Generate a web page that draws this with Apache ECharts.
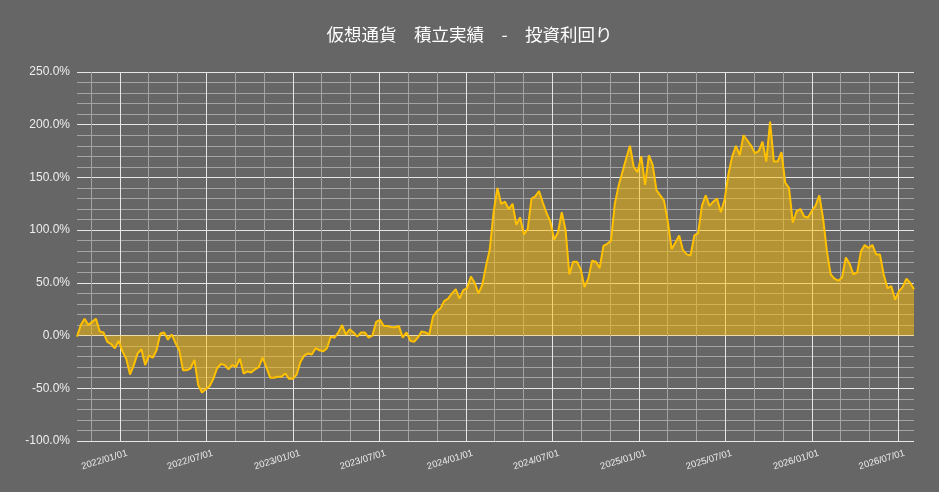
<!DOCTYPE html>
<html>
<head>
<meta charset="utf-8">
<script src="https://cdn.jsdelivr.net/npm/echarts@6/dist/echarts.min.js"></script>
<style>
html,body{margin:0;padding:0;background:#666666;}
#c{width:939px;height:492px;}
</style>
</head>
<body>
<div id="c"></div>
<script>
// ---- data ----
const titleText = '仮想通貨　積立実績　-　投資利回り';
const startDate = '2021-10-01';
const endDate = '2026-08-04';
const stepDays = 8; // one reading every 8 days, starting at startDate
const returnPct = [
  -1, 10, 16, 10, 13, 16, 4, 3, -6, -8,
  -12, -5, -15, -22, -37, -28, -17, -13, -28, -19,
  -21, -14, 2, 3, -4, 1, -7, -14, -33, -33,
  -31, -23, -47, -54, -51, -48, -41, -31, -27, -28,
  -32, -28, -30, -22, -36, -34, -35, -32, -30, -21,
  -30, -40, -40, -39, -39, -36, -41, -41, -37, -25,
  -19, -17, -18, -12, -14, -15, -12, -1, -2, 3,
  10, 1, 6, 3, -1, 3, 3, -2, 0, 13,
  15, 9, 9, 8, 8, 9, -2, 3, -5, -6,
  -2, 4, 3, 1, 18, 23, 26, 33, 35, 40,
  44, 35, 43, 45, 56, 50, 40, 48, 66, 82,
  117, 140, 125, 127, 120, 125, 105, 112, 96, 101,
  130, 132, 137, 126, 116, 108, 91, 98, 117, 100,
  58, 70, 70, 63, 46, 54, 71, 70, 64, 85,
  87, 90, 125, 142, 155, 168, 180, 160, 155, 170,
  143, 171, 162, 138, 133, 128, 108, 82, 88, 95,
  81, 77, 76, 95, 97, 123, 133, 123, 127, 130,
  117, 129, 153, 170, 180, 171, 190, 185, 180, 173,
  175, 184, 165, 203, 165, 165, 174, 145, 140, 107,
  118, 120, 113, 112, 118, 123, 133, 111, 80, 58,
  54, 52, 55, 74, 68, 58, 60, 80, 86, 83,
  86, 77, 77, 58, 45, 47, 34, 42, 46, 54,
  50, 44
];
const yMin = -100, yMax = 250, yStep = 50;
const majorMonths = ['01', '07'];          // labelled half-year lines
const minorMonths = ['03', '05', '09', '11']; // other grid lines every 2 months

// ---- daily categories ----
function pad(n){return (n<10?'0':'')+n;}
const days = [];
{
  let d = new Date(startDate + 'T00:00:00Z');
  const end = new Date(endDate + 'T00:00:00Z');
  while (d <= end) {
    days.push(d.getUTCFullYear() + '-' + pad(d.getUTCMonth()+1) + '-' + pad(d.getUTCDate()));
    d = new Date(d.getTime() + 86400000);
  }
}
const seriesData = returnPct.map((v, i) => [i * stepDays, v]);

const isMajor = (idx, v) => v.slice(8) === '01' && majorMonths.includes(v.slice(5,7));
const isMinor = (idx, v) => v.slice(8) === '01' && minorMonths.includes(v.slice(5,7));
const isLabel = (idx, v) => v.slice(8) === '15' && majorMonths.includes(v.slice(5,7));

const chart = echarts.init(document.getElementById('c'), null, {renderer: 'canvas'});
chart.setOption({
  backgroundColor: '#666666',
  animation: false,
  title: {
    text: titleText,
    left: 'center',
    top: 21,
    textStyle: {color: '#ffffff', fontSize: 17.5, fontWeight: 'normal', fontFamily: 'Noto Sans CJK JP'}
  },
  grid: {left: 77, right: 25, top: 72, bottom: 51, containLabel: false},
  xAxis: [
    {
      type: 'category',
      data: days,
      boundaryGap: false,
      axisLine: {show: false},
      axisTick: {show: false},
      axisLabel: {
        interval: isLabel,
        rotate: 17,
        margin: 12,
        color: '#eeeeee',
        fontSize: 9.5,
        fontFamily: 'Liberation Sans',
        formatter: v => v.slice(0,4) + '/' + v.slice(5,7) + '/01'
      },
      splitLine: {show: true, interval: isMajor, lineStyle: {color: '#e6e6e6', width: 1}},
      z: 3
    },
    {
      type: 'category',
      data: days,
      boundaryGap: false,
      position: 'bottom',
      axisLine: {show: false},
      axisTick: {show: false},
      axisLabel: {show: false},
      splitLine: {show: true, interval: isMinor, lineStyle: {color: '#a3a3a3', width: 1}},
      z: 1
    }
  ],
  yAxis: {
    type: 'value',
    min: yMin,
    max: yMax,
    interval: yStep,
    axisLine: {show: false},
    axisTick: {show: false},
    axisLabel: {
      color: '#eeeeee',
      fontSize: 12,
      fontFamily: 'Liberation Sans',
      margin: 7,
      formatter: v => v.toFixed(1) + '%'
    },
    splitLine: {show: true, lineStyle: {color: '#e6e6e6', width: 1}},
    minorTick: {show: false, splitNumber: 5},
    minorSplitLine: {show: true, lineStyle: {color: '#a3a3a3', width: 1}}
  },
  series: [{
    type: 'line',
    xAxisIndex: 0,
    data: seriesData,
    showSymbol: false,
    symbol: 'none',
    lineStyle: {color: '#ffc000', width: 2},
    areaStyle: {color: '#ffc000', opacity: 0.5},
    z: 5
  }]
});
</script>
</body>
</html>
